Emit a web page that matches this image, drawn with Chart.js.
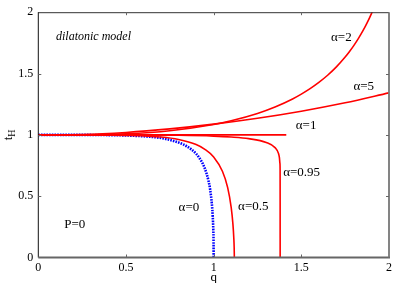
<!DOCTYPE html>
<html>
<head>
<meta charset="utf-8">
<script src="https://cdn.jsdelivr.net/npm/chart.js@4.4.1/dist/chart.umd.min.js"></script>
<style>
html,body{margin:0;padding:0;background:#fff;}
canvas{display:block;}
</style>
</head>
<body>
<canvas id="c" width="403" height="283"></canvas>
<script>
// ---- data ----
const xTickValues = [0, 0.5, 1, 1.5, 2];
const xTickLabels = ['0', '0.5', '1', '1.5', '2'];
const yTickValues = [0, 0.5, 1, 1.5, 2];
const yTickLabels = ['0', '0.5', '1', '1.5', '2'];

// alpha = 0 (blue, dotted)
const qA0 = [0, 0.2, 0.4, 0.5, 0.6, 0.7, 0.8, 0.85, 0.9, 0.93, 0.95, 0.97, 0.98, 0.99, 0.995, 0.998, 0.9995, 1.0];
const tA0 = [1, 0.9999, 0.998, 0.995, 0.988, 0.974, 0.9375, 0.904, 0.846, 0.786, 0.725, 0.629, 0.554, 0.433, 0.330, 0.224, 0.119, 0];

// alpha = 0.5
const qA05 = [0, 0.3, 0.5, 0.7, 0.8, 0.9, 0.95, 1.0, 1.05, 1.08, 1.1, 1.11, 1.115, 1.117, 1.118];
const tA05 = [1, 0.9996, 0.996, 0.982, 0.962, 0.921, 0.882, 0.820, 0.703, 0.570, 0.409, 0.270, 0.157, 0.084, 0];

// alpha = 0.95
const qA095 = [0, 0.5, 0.8, 1.0, 1.1, 1.2, 1.3, 1.35, 1.37, 1.375, 1.378, 1.379, 1.3792, 1.3793];
const tA095 = [1, 0.9996, 0.9967, 0.990, 0.9825, 0.969, 0.938, 0.896, 0.847, 0.814, 0.767, 0.712, 0.45, 0];

// alpha = 1
const qA1 = [0, 1.4142];
const tA1 = [1, 1];

// alpha = 2
const qA2 = [0, 0.25, 0.5, 0.75, 1.0, 1.1, 1.25, 1.35, 1.45, 1.5, 1.55, 1.6, 1.65, 1.7, 1.75, 1.775, 1.8, 1.825, 1.85, 1.875, 1.9, 1.91];
const tA2 = [1, 1.0007, 1.0085, 1.0334, 1.0844, 1.1148, 1.1747, 1.2271, 1.2928, 1.3323, 1.3766, 1.4275, 1.486, 1.5539, 1.634, 1.6793, 1.7292, 1.7841, 1.8449, 1.9128, 1.9889, 2.022];

// alpha = 5
const qA5 = [0, 0.25, 0.5, 0.75, 1.0, 1.25, 1.5, 1.75, 2.0];
const tA5 = [1, 1.003, 1.0195, 1.0485, 1.0875, 1.1354, 1.193, 1.2615, 1.3424];

// curve labels (text, q, t)
const curveLabelText = ['α=2', 'α=5', 'α=1', 'α=0.95', 'α=0.5', 'α=0', 'P=0'];
const curveLabelQ = [1.728, 1.856, 1.527, 1.502, 1.226, 0.859, 0.208];
const curveLabelT = [1.79, 1.396, 1.073, 0.691, 0.417, 0.403, 0.268];

// ---- build ----
function pts(qs, ts){ return qs.map((q,i)=>({x:q, y:ts[i]})); }
const RED = '#ff0000', BLUE = '#0000ff';
function redSet(qs, ts){
  return {data: pts(qs, ts), borderColor: RED, borderWidth: 1.6, pointRadius: 0, showLine: true, fill: false, cubicInterpolationMode: 'monotone'};
}
const datasets = [
  redSet(qA2, tA2),
  redSet(qA5, tA5),
  redSet(qA1, tA1),
  redSet(qA095, tA095),
  redSet(qA05, tA05),
  {data: pts(qA0, tA0), borderColor: BLUE, borderWidth: 2.6, borderDash: [1.6, 1.1], pointRadius: 0, showLine: true, fill: false, cubicInterpolationMode: 'monotone'}
];

const SERIF = '"Liberation Serif", "DejaVu Serif", serif';

const decor = {
  id: 'decor',
  afterDatasetsDraw(chart){
    const ctx = chart.ctx, a = chart.chartArea;
    const xs = chart.scales.x, ys = chart.scales.y;
    ctx.save();
    // frame
    ctx.lineCap = 'butt';
    ctx.strokeStyle = '#333'; ctx.lineWidth = 1;
    ctx.beginPath(); ctx.moveTo(a.left, a.top + 0.5); ctx.lineTo(a.right, a.top + 0.5); ctx.stroke();
    ctx.strokeStyle = '#111'; ctx.lineWidth = 1;
    ctx.beginPath(); ctx.moveTo(a.left, a.top); ctx.lineTo(a.left, a.bottom); ctx.stroke();
    ctx.strokeStyle = '#666'; ctx.lineWidth = 1.8;
    ctx.beginPath(); ctx.moveTo(a.left, a.bottom); ctx.lineTo(a.right + 1, a.bottom); ctx.stroke();
    ctx.strokeStyle = '#777'; ctx.lineWidth = 1.8;
    ctx.beginPath(); ctx.moveTo(a.right, a.top); ctx.lineTo(a.right, a.bottom); ctx.stroke();
    // inward ticks
    ctx.strokeStyle = '#666'; ctx.lineWidth = 1;
    const tl = 3;
    xTickValues.forEach(v=>{
      if (v === xs.min || v === xs.max) return;
      const px = Math.round(xs.getPixelForValue(v)) + 0.5;
      ctx.beginPath(); ctx.moveTo(px, a.bottom); ctx.lineTo(px, a.bottom - tl); ctx.stroke();
      ctx.beginPath(); ctx.moveTo(px, a.top); ctx.lineTo(px, a.top + tl); ctx.stroke();
    });
    yTickValues.forEach(v=>{
      if (v === ys.min || v === ys.max) return;
      const py = Math.round(ys.getPixelForValue(v)) + 0.5;
      ctx.beginPath(); ctx.moveTo(a.left, py); ctx.lineTo(a.left + tl, py); ctx.stroke();
      ctx.beginPath(); ctx.moveTo(a.right, py); ctx.lineTo(a.right - tl, py); ctx.stroke();
    });
    // curve labels
    ctx.fillStyle = '#000';
    ctx.textAlign = 'center'; ctx.textBaseline = 'middle';
    ctx.font = '13px ' + SERIF;
    curveLabelText.forEach((s,i)=>{
      ctx.fillText(s, xs.getPixelForValue(curveLabelQ[i]), ys.getPixelForValue(curveLabelT[i]));
    });
    // model annotation
    ctx.font = 'italic 12px ' + SERIF;
    ctx.textAlign = 'left';
    ctx.fillText('dilatonic model', xs.getPixelForValue(0.101), ys.getPixelForValue(1.80));
    // x axis title
    ctx.font = '13px ' + SERIF;
    ctx.textAlign = 'center'; ctx.textBaseline = 'alphabetic';
    ctx.fillText('q', (a.left + a.right) / 2, 281);
    // y axis title t_H (rotated)
    ctx.translate(12, (a.top + a.bottom) / 2);
    ctx.rotate(-Math.PI / 2);
    ctx.textAlign = 'left'; ctx.textBaseline = 'alphabetic';
    ctx.font = '13px ' + SERIF;
    const tw = ctx.measureText('t').width;
    ctx.font = '10px ' + SERIF;
    const hw = ctx.measureText('H').width;
    const x0 = -(tw + hw) / 2;
    ctx.font = '13px ' + SERIF;
    ctx.fillText('t', x0, 0);
    ctx.font = '10px ' + SERIF;
    ctx.fillText('H', x0 + tw, 3);
    ctx.restore();
  }
};

new Chart(document.getElementById('c'), {
  type: 'scatter',
  data: { datasets },
  options: {
    responsive: false,
    animation: false,
    events: [],
    layout: { padding: { top: 9.3, right: 14, left: 0, bottom: 0 } },
    plugins: { legend: { display: false }, tooltip: { enabled: false } },
    scales: {
      x: {
        type: 'linear', min: 0, max: 2,
        afterBuildTicks: s => { s.ticks = xTickValues.map(v => ({ value: v })); },
        afterFit: s => { s.height = 25.5; },
        ticks: {
          color: '#000', padding: 3, maxRotation: 0, autoSkip: false,
          font: { family: SERIF, size: 12 },
          callback: (v) => { const i = xTickValues.indexOf(v); return i >= 0 ? xTickLabels[i] : ''; }
        },
        grid: { display: false, drawTicks: false },
        border: { display: false }
      },
      y: {
        type: 'linear', min: 0, max: 2,
        afterBuildTicks: s => { s.ticks = yTickValues.map(v => ({ value: v })); },
        afterFit: s => { s.width = 38.3; },
        ticks: {
          color: '#000', padding: 5, autoSkip: false,
          font: { family: SERIF, size: 12 },
          callback: (v) => { const i = yTickValues.indexOf(v); return i >= 0 ? yTickLabels[i] : ''; }
        },
        grid: { display: false, drawTicks: false },
        border: { display: false }
      }
    }
  },
  plugins: [decor]
});
</script>
</body>
</html>
